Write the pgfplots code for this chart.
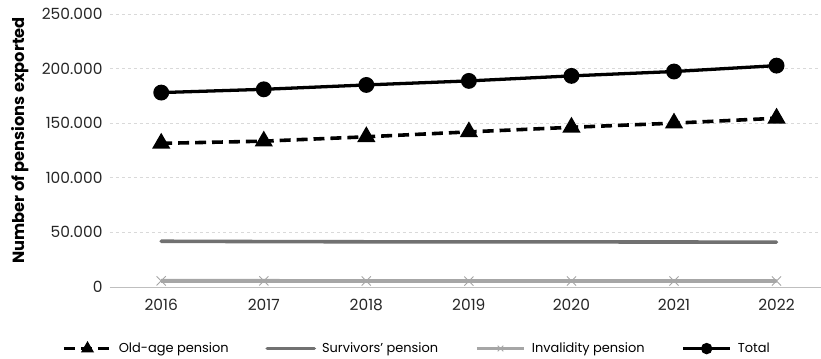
\documentclass[border=0pt]{standalone}
\usepackage{fontspec}
\setmainfont{Poppins}
\usepackage{pgfplots}
\pgfplotsset{compat=1.18}
\definecolor{survgray}{HTML}{717171}
\definecolor{invgray}{HTML}{A6A6A6}
\definecolor{gridgray}{HTML}{D9D9D9}
\definecolor{axisgray}{HTML}{BFBFBF}
\begin{document}
\begin{tikzpicture}
\begin{axis}[
  scale only axis,
  width=711bp, height=273bp,
  xmin=2015.5, xmax=2022.43,
  ymin=0, ymax=250000,
  scaled y ticks=false,
  xtick={2016,...,2022},
  xticklabels={2016,2017,2018,2019,2020,2021,2022},
  ytick={0,50000,100000,150000,200000,250000},
  yticklabels={0,50.000,100.000,150.000,200.000,250.000},
  tick style={draw=none},
  axis line style={draw=none},
  ymajorgrids,
  major grid style={gridgray, dashed, line width=0.6pt},
  ticklabel style={font=\fontsize{15.5}{17}\selectfont, text=black!85},
  xticklabel style={yshift=-9pt},
  yticklabel style={xshift=-4pt},
  ylabel={\textbf{Number of pensions exported}},
  ylabel style={font=\fontsize{16.3}{18}\selectfont, yshift=6pt, xshift=10pt},
  legend style={draw=none, at={(0.432,-0.19)}, anchor=north,
    font=\fontsize{13}{15}\selectfont, column sep=4pt,
    /tikz/every odd column/.append style={column sep=4pt},
    /tikz/every even column/.append style={column sep=35pt}},
  legend columns=4,
  legend image code/.code={
    \draw[mark repeat=2, mark phase=2, #1, mark size=4pt]
      plot coordinates {(0cm,0cm) (0.83cm,0cm) (1.66cm,0cm)};
  },
  clip=false,
]
% room around the plot area
\path ([xshift=-110bp, yshift=14bp]rel axis cs:0,1);
\draw[axisgray, line width=0.7pt] (axis cs:2015.5,0) -- (axis cs:2022.43,0);
\addplot[black, line width=3.6pt, dash pattern=on 11pt off 6pt,
  mark=triangle*, mark size=7pt, mark options={solid}]
  coordinates {(2016,131500) (2017,133500) (2018,137500) (2019,142000)
               (2020,146200) (2021,150000) (2022,154500)};
\addlegendentry{Old-age pension}
\addplot[survgray, line width=3.6pt, line cap=round]
  coordinates {(2016,41800) (2017,41500) (2018,41300) (2019,41200)
               (2020,41200) (2021,41100) (2022,41000)};
\addlegendentry{Survivors' pension}
\addplot[invgray, line width=3.8pt, mark=x, mark size=6.5pt,
  mark options={line width=0.9pt, invgray}]
  coordinates {(2016,5500) (2017,5500) (2018,5400) (2019,5300)
               (2020,5400) (2021,5400) (2022,5400)};
\addlegendentry{Invalidity pension}
\addplot[black, line width=3.3pt, mark=*, mark size=6.3pt]
  coordinates {(2016,178000) (2017,181000) (2018,185000) (2019,188700)
               (2020,193300) (2021,197300) (2022,202700)};
\addlegendentry{Total}
\end{axis}
\end{tikzpicture}
\end{document}
